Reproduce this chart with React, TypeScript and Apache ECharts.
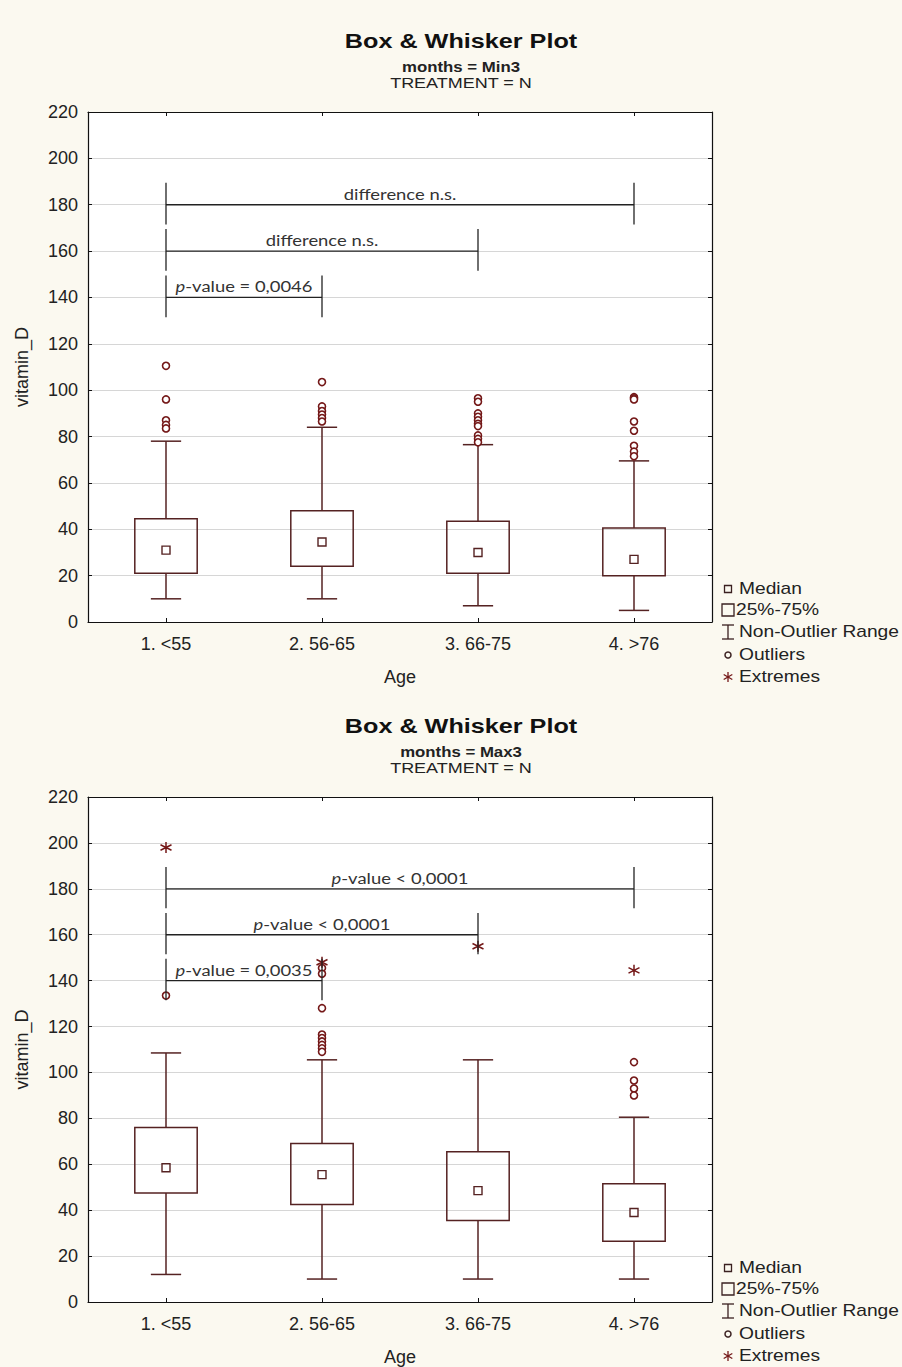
import React, { useEffect, useRef } from "react";
import * as echarts from "echarts";

// Age groups on the x axis
const categories = ["1. <55", "2. 56-65", "3. 66-75", "4. >76"];

// vitamin_D axis
const yMin = 0;
const yMax = 220;
const yStep = 20;

// months = Min3 : [low whisker, Q1, median, Q3, high whisker] per age group
const min3Boxes = [
  [10, 21, 31, 44.5, 78],
  [10, 24, 34.5, 48, 84],
  [7, 21, 30, 43.5, 76.5],
  [5, 20, 27, 40.5, 69.5],
];
const min3Outliers = [
  [110.5, 96, 87, 85, 83.5],
  [103.5, 93, 91, 89.5, 88, 86.5],
  [96.5, 95, 90, 88.5, 87, 85.5, 84.5, 80.5, 79, 77.5],
  [97, 96.5, 96, 86.5, 82.5, 76, 73.5, 71.5],
];
const min3Extremes: number[][] = [[], [], [], []];
// pairwise comparisons: [from group, to group, bracket level]
const min3Pairs = [
  [0, 3, 180],
  [0, 2, 160],
  [0, 1, 140],
];
const min3PairLabels = ["difference n.s.", "difference n.s.", "{i|p}-value = 0,0046"];

// months = Max3
const max3Boxes = [
  [12, 47.5, 58.5, 76, 108.5],
  [10, 42.5, 55.5, 69, 105.5],
  [10, 35.5, 48.5, 65.5, 105.5],
  [10, 26.5, 39, 51.5, 80.5],
];
const max3Outliers = [
  [133.5],
  [145.5, 143, 128, 116.5, 115, 113.5, 112, 110.5, 109],
  [],
  [104.5, 96.5, 93, 90],
];
const max3Extremes = [[198], [148], [155], [144.5]];
const max3Pairs = [
  [0, 3, 180],
  [0, 2, 160],
  [0, 1, 140],
];
const max3PairLabels = ["{i|p}-value < 0,0001", "{i|p}-value < 0,0001", "{i|p}-value = 0,0035"];

const legendItems = ["Median", "25%-75%", "Non-Outlier Range", "Outliers", "Extremes"];

const BOX_COLOR = "#552222";
const POINT_COLOR = "#741818";
const INK = "#222222";
const SANS = "'Liberation Sans', Arial, sans-serif";
const STRETCH = 1.2;

type Panel = {
  top: number;
  height: number;
  boxes: number[][];
  outliers: number[][];
  extremes: number[][];
  pairs: number[][];
  pairLabels: string[];
  subtitle: string;
};

const panels: Panel[] = [
  {
    top: 112,
    height: 510,
    boxes: min3Boxes,
    outliers: min3Outliers,
    extremes: min3Extremes,
    pairs: min3Pairs,
    pairLabels: min3PairLabels,
    subtitle: "months = Min3",
  },
  {
    top: 797,
    height: 506,
    boxes: max3Boxes,
    outliers: max3Outliers,
    extremes: max3Extremes,
    pairs: max3Pairs,
    pairLabels: max3PairLabels,
    subtitle: "months = Max3",
  },
];

const GRID_LEFT = 88;
const GRID_WIDTH = 624;

function buildOption() {
  const grid: any[] = [];
  const xAxis: any[] = [];
  const yAxis: any[] = [];
  const series: any[] = [];
  const graphic: any[] = [];

  panels.forEach((p, k) => {
    grid.push({ left: GRID_LEFT, top: p.top, width: GRID_WIDTH, height: p.height, show: true, backgroundColor: "#ffffff", borderWidth: 0 });

    const frameLine = { show: true, onZero: false, lineStyle: { color: "#111", width: 1.2 } };
    const innerTick = { show: true, inside: true, length: 4, lineStyle: { color: "#111" } };

    xAxis.push({
      type: "category",
      gridIndex: k,
      data: categories,
      position: "bottom",
      axisLine: frameLine,
      axisTick: { ...innerTick, alignWithLabel: true },
      axisLabel: { color: INK, fontSize: 18, fontFamily: SANS, margin: 13 },
      name: "Age",
      nameLocation: "middle",
      nameGap: 46,
      nameTextStyle: { color: INK, fontSize: 18, fontFamily: SANS },
      splitLine: { show: false },
    });
    xAxis.push({
      type: "category",
      gridIndex: k,
      data: categories,
      position: "top",
      axisLine: frameLine,
      axisTick: { ...innerTick, alignWithLabel: true },
      axisLabel: { show: false },
      splitLine: { show: false },
    });
    yAxis.push({
      type: "value",
      gridIndex: k,
      min: yMin,
      max: yMax,
      interval: yStep,
      position: "left",
      axisLine: frameLine,
      axisTick: innerTick,
      axisLabel: { color: INK, fontSize: 18, fontFamily: SANS, margin: 10 },
      splitLine: { show: true, lineStyle: { color: "#d6d6d6", width: 1 } },
      name: "vitamin_D",
      nameLocation: "middle",
      nameGap: 57,
      nameTextStyle: { color: INK, fontSize: 18, fontFamily: SANS },
    });
    yAxis.push({
      type: "value",
      gridIndex: k,
      min: yMin,
      max: yMax,
      interval: yStep,
      position: "right",
      axisLine: frameLine,
      axisTick: innerTick,
      axisLabel: { show: false },
      splitLine: { show: false },
    });

    const xi = k * 2;
    const yi = k * 2;

    // boxes and whiskers
    series.push({
      type: "custom",
      xAxisIndex: xi,
      yAxisIndex: yi,
      data: p.boxes.map((b, i) => [i, ...b]),
      encode: { x: 0, y: [1, 2, 3, 4, 5] },
      renderItem: (params: any, api: any) => {
        const c = api.value(0);
        const cx = api.coord([c, 0])[0];
        const band = api.size([1, 0])[0];
        const half = band * 0.2;
        const cap = band * 0.097;
        const y = (v: number) => api.coord([c, v])[1];
        const yLow = y(api.value(1));
        const yQ1 = y(api.value(2));
        const yMed = y(api.value(3));
        const yQ3 = y(api.value(4));
        const yHigh = y(api.value(5));
        const st = { stroke: BOX_COLOR, lineWidth: 1.5, fill: "none" };
        return {
          type: "group",
          children: [
            { type: "line", shape: { x1: cx, y1: yHigh, x2: cx, y2: yQ3 }, style: st },
            { type: "line", shape: { x1: cx, y1: yQ1, x2: cx, y2: yLow }, style: st },
            { type: "line", shape: { x1: cx - cap, y1: yHigh, x2: cx + cap, y2: yHigh }, style: st },
            { type: "line", shape: { x1: cx - cap, y1: yLow, x2: cx + cap, y2: yLow }, style: st },
            { type: "rect", shape: { x: cx - half, y: yQ3, width: half * 2, height: yQ1 - yQ3 }, style: st },
            { type: "rect", shape: { x: cx - 4, y: yMed - 4, width: 8, height: 8 }, style: { stroke: BOX_COLOR, lineWidth: 1.4, fill: "#ffffff" } },
          ],
        };
      },
      z: 3,
    });

    // outliers
    const outPts: number[][] = [];
    p.outliers.forEach((vals, i) => vals.forEach((v) => outPts.push([i, v])));
    series.push({
      type: "scatter",
      xAxisIndex: xi,
      yAxisIndex: yi,
      data: outPts,
      symbol: "circle",
      symbolSize: 7,
      itemStyle: { color: "#ffffff", borderColor: POINT_COLOR, borderWidth: 1.6, opacity: 1 },
      z: 4,
    });

    // extremes
    const extPts: number[][] = [];
    p.extremes.forEach((vals, i) => vals.forEach((v) => extPts.push([i, v])));
    series.push({
      type: "scatter",
      xAxisIndex: xi,
      yAxisIndex: yi,
      data: extPts,
      symbol: "path://M5 0 L5 10 M0.67 2.5 L9.33 7.5 M0.67 7.5 L9.33 2.5",
      symbolSize: 11,
      itemStyle: { color: "transparent", borderColor: POINT_COLOR, borderWidth: 1.5, opacity: 1 },
      z: 4,
    });

    // significance brackets
    const labels = p.pairLabels;
    series.push({
      type: "custom",
      xAxisIndex: xi,
      yAxisIndex: yi,
      data: p.pairs,
      encode: { x: [0, 1], y: 2 },
      renderItem: (params: any, api: any) => {
        const a = api.value(0);
        const b = api.value(1);
        const lvl = api.value(2);
        const pa = api.coord([a, lvl]);
        const pb = api.coord([b, lvl]);
        const up = api.coord([a, lvl + 9.5])[1];
        const dn = api.coord([a, lvl - 8.5])[1];
        const st = { stroke: INK, lineWidth: 1.3 };
        return {
          type: "group",
          children: [
            { type: "line", shape: { x1: pa[0], y1: pa[1], x2: pb[0], y2: pb[1] }, style: st },
            { type: "line", shape: { x1: pa[0], y1: up, x2: pa[0], y2: dn }, style: st },
            { type: "line", shape: { x1: pb[0], y1: up, x2: pb[0], y2: dn }, style: st },
            {
              type: "text",
              x: (pa[0] + pb[0]) / 2,
              y: pa[1] - 11,
              scaleX: 1.15,
              style: {
                text: labels[params.dataIndex],
                fill: "#333333",
                fontSize: 16,
                fontFamily: "Lato, 'Open Sans', sans-serif",
                textAlign: "center",
                textVerticalAlign: "middle",
                rich: {
                  i: { fontStyle: "italic", fontSize: 16, fontFamily: "Lato, 'Open Sans', sans-serif", fill: "#333333" },
                },
              },
            },
          ],
        };
      },
      z: 5,
    });

    // titles
    const dy = k === 0 ? 0 : 685;
    const cx = 461;
    graphic.push({
      type: "text",
      x: cx,
      y: 41 + dy,
      scaleX: STRETCH,
      style: { text: "Box & Whisker Plot", fill: "#111", font: `bold 21px ${SANS}`, textAlign: "center", textVerticalAlign: "middle" },
    });
    graphic.push({
      type: "text",
      x: cx,
      y: 67 + dy,
      scaleX: STRETCH,
      style: { text: p.subtitle, fill: "#222", font: `bold 14px ${SANS}`, textAlign: "center", textVerticalAlign: "middle" },
    });
    graphic.push({
      type: "text",
      x: cx,
      y: 83 + dy,
      scaleX: STRETCH,
      style: { text: "TREATMENT = N", fill: "#222", font: `15px ${SANS}`, textAlign: "center", textVerticalAlign: "middle" },
    });

    // legend key
    const ly = k === 0 ? 589 : 1268;
    const rows = [ly, ly + 21, ly + 43, ly + 66, ly + 88];
    const sx = 728;
    const sym = { stroke: "#3a2020", lineWidth: 1.3, fill: "none" };
    graphic.push({ type: "rect", shape: { x: sx - 3.5, y: rows[0] - 3.5, width: 7, height: 7 }, style: sym });
    graphic.push({ type: "rect", shape: { x: sx - 6, y: rows[1] - 6, width: 12, height: 12 }, style: sym });
    graphic.push({ type: "line", shape: { x1: sx, y1: rows[2] - 7, x2: sx, y2: rows[2] + 7 }, style: sym });
    graphic.push({ type: "line", shape: { x1: sx - 6, y1: rows[2] - 7, x2: sx + 6, y2: rows[2] - 7 }, style: sym });
    graphic.push({ type: "line", shape: { x1: sx - 6, y1: rows[2] + 7, x2: sx + 6, y2: rows[2] + 7 }, style: sym });
    graphic.push({ type: "circle", shape: { cx: sx, cy: rows[3], r: 3 }, style: { ...sym, lineWidth: 1.5 } });
    graphic.push({ type: "line", shape: { x1: sx, y1: rows[4] - 5, x2: sx, y2: rows[4] + 5 }, style: { ...sym, stroke: POINT_COLOR } });
    graphic.push({ type: "line", shape: { x1: sx - 4.3, y1: rows[4] - 2.5, x2: sx + 4.3, y2: rows[4] + 2.5 }, style: { ...sym, stroke: POINT_COLOR } });
    graphic.push({ type: "line", shape: { x1: sx - 4.3, y1: rows[4] + 2.5, x2: sx + 4.3, y2: rows[4] - 2.5 }, style: { ...sym, stroke: POINT_COLOR } });
    legendItems.forEach((t, i) => {
      graphic.push({
        type: "text",
        x: i === 1 ? 736 : 739,
        y: rows[i],
        scaleX: STRETCH,
        style: { text: t, fill: "#222", font: `16px ${SANS}`, textAlign: "left", textVerticalAlign: "middle" },
      });
    });
  });

  return {
    animation: false,
    backgroundColor: "#fbf9f0",
    grid,
    xAxis,
    yAxis,
    series,
    graphic,
  };
}

export default function App() {
  const ref = useRef<HTMLDivElement>(null);

  useEffect(() => {
    document.body.style.margin = "0";
    if (!ref.current) return;
    const chart = echarts.init(ref.current, undefined, { renderer: "svg" });
    chart.setOption(buildOption() as any);
    return () => chart.dispose();
  }, []);

  return <div ref={ref} style={{ width: 902, height: 1367, background: "#fbf9f0" }} />;
}
